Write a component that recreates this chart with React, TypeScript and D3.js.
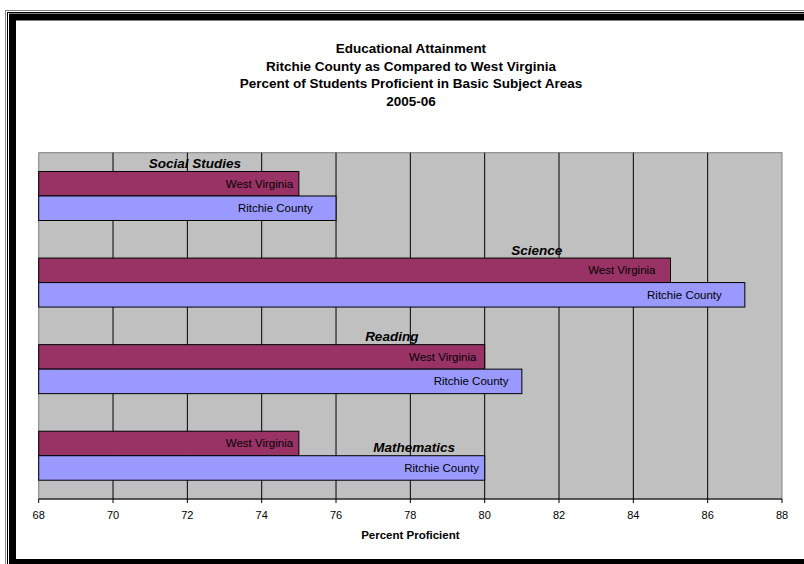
import React from "react";
import * as d3 from "d3";

const categories = ["Social Studies", "Science", "Reading", "Mathematics"];
const seriesNames = ["West Virginia", "Ritchie County"];
const westVirginia = [75, 85, 80, 75];
const ritchieCounty = [76, 87, 81, 80];
const xTicks = [68, 70, 72, 74, 76, 78, 80, 82, 84, 86, 88];
const titleLines = [
  "Educational Attainment",
  "Ritchie County as Compared to West Virginia",
  "Percent of Students Proficient in Basic Subject Areas",
  "2005-06",
];
const axisTitle = "Percent Proficient";

// category name labels were dragged around in the original, so keep their
// centre (in axis units) and which bar they sit on top of
const catLabelAt = [72.2, 81.4, 77.5, 78.1];
const catLabelOver = ["West Virginia", "West Virginia", "West Virginia", "Ritchie County"];
// series-name labels don't sit at the same distance from the bar end
const labelGap: Record<string, number[]> = {
  "West Virginia": [5.7, 15, 8.3, 5.7],
  "Ritchie County": [23.3, 23, 13.3, 5.7],
};

const W = 804;
const H = 564;
const FONT = "'Liberation Sans', Arial, sans-serif";
const colors: Record<string, string> = {
  "West Virginia": "#993366",
  "Ritchie County": "#9999FF",
};

export default function App() {
  const plot = { left: 38.7, right: 782, top: 152.7, bottom: 499 };

  const x = d3.scaleLinear().domain([68, 88]).range([plot.left, plot.right]);
  const y0 = d3
    .scaleBand<string>()
    .domain(categories)
    .range([plot.top, plot.bottom])
    .paddingInner(0.434)
    .paddingOuter(0.217);
  const y1 = d3
    .scaleBand<string>()
    .domain(seriesNames)
    .range([0, y0.bandwidth()]);

  const values: Record<string, number[]> = {
    "West Virginia": westVirginia,
    "Ritchie County": ritchieCounty,
  };

  return (
    <svg
      width={W}
      height={H}
      style={{ position: "absolute", left: 0, top: 0, background: "#fff" }}
      fontFamily={FONT}
    >
      {/* frame */}
      <rect x={5.5} y={10.5} width={900} height={600} fill="none" stroke="#808080" />
      <rect x={7.5} y={12.5} width={900} height={600} fill="none" stroke="#000" />
      <rect x={12.5} y={17} width={900} height={545.5} fill="none" stroke="#000" strokeWidth={7} />

      {/* title */}
      {titleLines.map((t, i) => (
        <text
          key={t}
          x={411}
          y={53.3 + i * 17.5}
          textAnchor="middle"
          fontWeight="bold"
          fontSize={13.5}
          fill="#000"
        >
          {t}
        </text>
      ))}

      {/* plot area */}
      <rect
        x={plot.left}
        y={plot.top}
        width={plot.right - plot.left}
        height={plot.bottom - plot.top}
        fill="#C0C0C0"
        stroke="#808080"
      />
      {xTicks.slice(1, -1).map((t) => (
        <line
          key={t}
          x1={x(t)}
          x2={x(t)}
          y1={plot.top}
          y2={plot.bottom}
          stroke="#000"
          strokeWidth={1}
        />
      ))}

      {/* bars */}
      {categories.map((c, ci) =>
        seriesNames.map((s) => {
          const v = values[s][ci];
          const by = y0(c)! + y1(s)!;
          return (
            <g key={c + s}>
              <rect
                x={x(68)}
                y={by}
                width={x(v) - x(68)}
                height={y1.bandwidth()}
                fill={colors[s]}
                stroke="#000"
                strokeWidth={1}
              />
              <text
                x={x(v) - labelGap[s][ci]}
                y={by + y1.bandwidth() / 2}
                dy="0.35em"
                textAnchor="end"
                fontSize={11.5}
                fill="#000"
              >
                {s}
              </text>
            </g>
          );
        })
      )}

      {/* category labels */}
      {categories.map((c, ci) => (
        <text
          key={c}
          x={x(catLabelAt[ci])}
          y={y0(c)! + y1(catLabelOver[ci])! - 3.5}
          textAnchor="middle"
          fontWeight="bold"
          fontStyle="italic"
          fontSize={13.5}
          fill="#000"
        >
          {c}
        </text>
      ))}

      {/* x axis */}
      <line x1={plot.left} x2={plot.right} y1={plot.bottom} y2={plot.bottom} stroke="#000" />
      {xTicks.map((t) => (
        <g key={t}>
          <line x1={x(t)} x2={x(t)} y1={plot.bottom} y2={plot.bottom + 4} stroke="#000" />
          <text x={x(t)} y={518.5} textAnchor="middle" fontSize={11} fill="#000">
            {t}
          </text>
        </g>
      ))}
      <text
        x={(plot.left + plot.right) / 2}
        y={538.5}
        textAnchor="middle"
        fontWeight="bold"
        fontSize={11.5}
        fill="#000"
      >
        {axisTitle}
      </text>
    </svg>
  );
}
